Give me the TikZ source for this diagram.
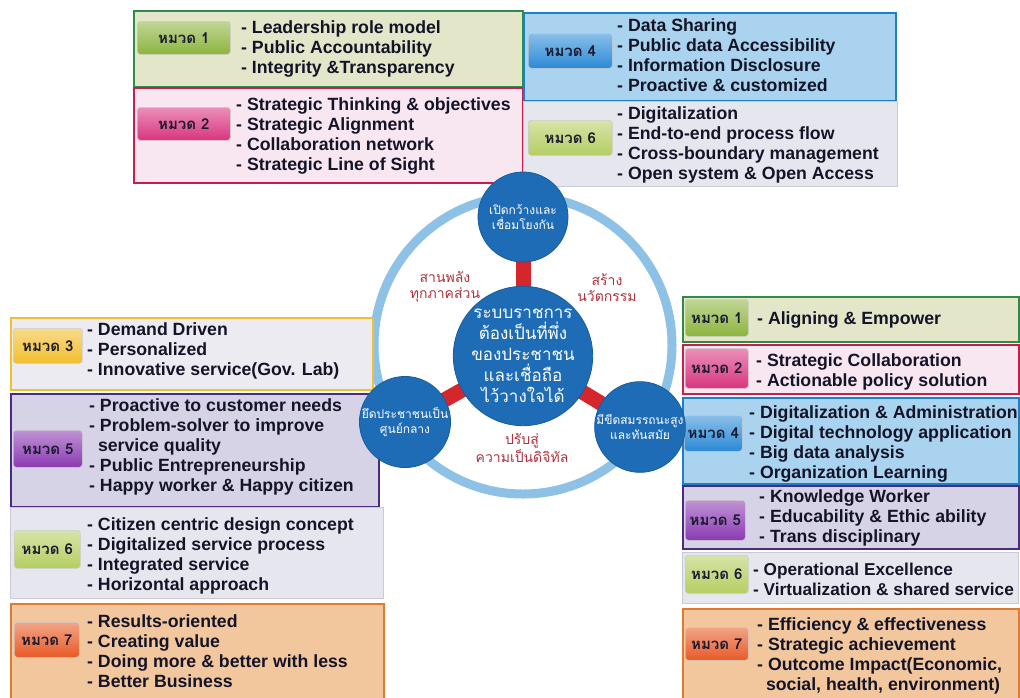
\documentclass[tikz,border=0pt]{standalone}
\usepackage{fontspec}
\setmainfont{Liberation Sans}
\newfontfamily\thaifont[Script=Thai]{Loma}
\usetikzlibrary{positioning}
\definecolor{ink}{HTML}{141428}
\definecolor{tagInk}{HTML}{1A1A30}
\definecolor{hgreen}{HTML}{2E8B4A}\definecolor{hgreenFill}{HTML}{E3E6C8}\definecolor{hgreenTag}{HTML}{8DB43F}
\definecolor{hpink}{HTML}{C81E4E}\definecolor{hpinkFill}{HTML}{F8E6F0}\definecolor{hpinkTag}{HTML}{D9357F}
\definecolor{hblue}{HTML}{1E7FC2}\definecolor{hblueFill}{HTML}{A9D3EE}\definecolor{hblueTag}{HTML}{2B8AD6}
\definecolor{hgrey}{HTML}{C9CAD6}\definecolor{hgreyFill}{HTML}{E6E7EE}\definecolor{hgreyTag}{HTML}{B5CE62}
\definecolor{hyellow}{HTML}{EFC12F}\definecolor{hyellowFill}{HTML}{EBEBF1}\definecolor{hyellowTag}{HTML}{F2BE2C}
\definecolor{hpurple}{HTML}{4B2A82}\definecolor{hpurpleFill}{HTML}{D7D3E7}\definecolor{hpurpleTag}{HTML}{8B3AB2}
\definecolor{horange}{HTML}{E07A2F}\definecolor{horangeFill}{HTML}{F3C79D}\definecolor{horangeTag}{HTML}{E85A26}
\definecolor{ringBlue}{HTML}{8DC1E5}
\definecolor{discBlue}{HTML}{1F6CB6}
\definecolor{spokeRed}{HTML}{D4262B}
\definecolor{arcRed}{HTML}{B0303C}
\pgfdeclarelayer{back}
\pgfsetlayers{back,main}

\begin{document}
\begin{tikzpicture}
  [x=1pt,y=-1pt,
   catBox/.style={draw=#1,fill=#1Fill,line width=1.8pt,anchor=north west,inner sep=0},
   tagBox/.style={rounded corners=3pt,top color=#1Tag!55!white,bottom color=#1Tag,
     draw=gray!40,line width=0.6pt,anchor=north west,inner sep=0,text=tagInk,
     font=\thaifont\bfseries\fontsize{15}{15}\selectfont},
   items/.style={anchor=west,align=left,inner sep=0,text=ink,
     font=\bfseries\fontsize{17.7}{20}\selectfont},
   disc/.style={circle,fill=discBlue,draw=discBlue!85!black,line width=0.8pt,
     inner sep=0,minimum size=#1,text=white,align=center},
   discText/.style={font=\thaifont\fontsize{12}{15}\selectfont},
   coreText/.style={font=\thaifont\fontsize{17}{21}\selectfont},
   arcText/.style={align=center,text=arcRed,inner sep=0,
     font=\thaifont\fontsize{14}{16}\selectfont},
   spoke/.style={line width=15pt,spokeRed,shorten <=-4pt,shorten >=-4pt},
  ]
 \useasboundingbox (0,0) rectangle (1020,697);

 % top left
 \node[catBox=hgreen,minimum width=389,minimum height=76] (boxA1) at (133,10) {};
 \node[tagBox=hgreen,minimum width=93,minimum height=33] (tagA1) at (137,21) {หมวด 1};
 \node[items] (txtA1) at (241,49) {- Leadership role model\\- Public Accountability\\- Integrity \&Transparency};

 \node[catBox=hpink,minimum width=389,minimum height=95] (boxA2) at (133,87) {};
 \node[tagBox=hpink,minimum width=93,minimum height=33] (tagA2) at (137,107) {หมวด 2};
 \node[items] (txtA2) at (236,136) {- Strategic Thinking \& objectives\\- Strategic Alignment\\- Collaboration network\\- Strategic Line of Sight};

 % top right
 \node[catBox=hblue,minimum width=372,minimum height=88] (boxA4) at (523,12) {};
 \node[tagBox=hblue,minimum width=84,minimum height=35] (tagA4) at (528,33) {หมวด 4};
 \node[items] (txtA4) at (617,55) {- Data Sharing\\- Public data Accessibility\\- Information Disclosure\\- Proactive \& customized};

 \node[catBox=hgrey,line width=0.8pt,minimum width=374,minimum height=85] (boxA6) at (523,101) {};
 \node[tagBox=hgrey,minimum width=84,minimum height=35] (tagA6) at (528,120) {หมวด 6};
 \node[items] (txtA6) at (617,145) {- Digitalization\\- End-to-end process flow\\- Cross-boundary management\\- Open system \& Open Access};

 % left column
 \node[catBox=hyellow,minimum width=362,minimum height=72] (boxL3) at (10,317) {};
 \node[tagBox=hyellow,minimum width=69,minimum height=35] (tagL3) at (13,328) {หมวด 3};
 \node[items] (txtL3) at (87,351) {- Demand Driven\\- Personalized\\- Innovative service(Gov. Lab)};

 \node[catBox=hpurple,minimum width=368,minimum height=113] (boxL5) at (10,393) {};
 \node[tagBox=hpurple,minimum width=69,minimum height=37] (tagL5) at (13,430) {หมวด 5};
 \node[items] (txtL5) at (89,447) {- Proactive to customer needs\\- Problem-solver to improve\\\phantom{-}\,service quality\\- Public Entrepreneurship\\- Happy worker \& Happy citizen};

 \node[catBox=hgrey,line width=0.8pt,minimum width=373,minimum height=91] (boxL6) at (10,507) {};
 \node[tagBox=hgrey,minimum width=66,minimum height=38] (tagL6) at (14,530) {หมวด 6};
 \node[items] (txtL6) at (87,556) {- Citizen centric design concept\\- Digitalized service process\\- Integrated service\\- Horizontal approach};

 \node[catBox=horange,minimum width=373,minimum height=100] (boxL7) at (10,603) {};
 \node[tagBox=horange,minimum width=65,minimum height=35] (tagL7) at (14,622) {หมวด 7};
 \node[items] (txtL7) at (87,651) {- Results-oriented\\- Creating value\\- Doing more \& better with less\\- Better Business};

 % right column
 \node[catBox=hgreen,minimum width=336,minimum height=45] (boxR1) at (682,296) {};
 \node[tagBox=hgreen,minimum width=63,minimum height=37] (tagR1) at (685,299) {หมวด 1};
 \node[items] (txtR1) at (757,320) {- Aligning \& Empower};

 \node[catBox=hpink,minimum width=336,minimum height=49] (boxR2) at (682,344) {};
 \node[tagBox=hpink,minimum width=63,minimum height=40] (tagR2) at (685,348) {หมวด 2};
 \node[items] (txtR2) at (756,372) {- Strategic Collaboration\\- Actionable policy solution};

 \node[catBox=hblue,minimum width=336,minimum height=86] (boxR4) at (682,397) {};
 \node[tagBox=hblue,minimum width=58,minimum height=36] (tagR4) at (684,415) {หมวด 4};
 \node[items] (txtR4) at (749,444) {- Digitalization \& Administration\\- Digital technology application\\- Big data analysis\\- Organization Learning};

 \node[catBox=hpurple,minimum width=336,minimum height=63] (boxR5) at (682,485) {};
 \node[tagBox=hpurple,minimum width=60,minimum height=40] (tagR5) at (685,500) {หมวด 5};
 \node[items] (txtR5) at (759,518) {- Knowledge Worker\\- Educability \& Ethic ability\\- Trans disciplinary};

 \node[catBox=hgrey,line width=0.8pt,minimum width=336,minimum height=51] (boxR6) at (682,552) {};
 \node[tagBox=hgrey,minimum width=63,minimum height=38] (tagR6) at (685,555) {หมวด 6};
 \node[items,font=\bfseries\fontsize{17.2}{20}\selectfont] (txtR6) at (753,579) {- Operational Excellence\\- Virtualization \& shared service};

 \node[catBox=horange,minimum width=336,minimum height=95] (boxR7) at (682,608) {};
 \node[tagBox=horange,minimum width=63,minimum height=33] (tagR7) at (685,627) {หมวด 7};
 \node[items] (txtR7) at (757,656) {- Efficiency \& effectiveness\\- Strategic achievement\\- Outcome Impact(Economic,\\\phantom{-}\,social, health, environment)};

 % centre wheel
 \coordinate (hub) at (523,345);
 \node[disc=126,coreText] (core) at (523,356)
   {ระบบราชการ\\ต้องเป็นที่พึ่ง\\ของประชาชน\\และเชื่อถือ\\ไว้วางใจได้};
 \node[disc=90,discText] (open) at (523,217) {เปิดกว้างและ\\เชื่อมโยงกัน};
 \node[disc=90,discText] (citizen) at (405,422) {ยึดประชาชนเป็น\\ศูนย์กลาง};
 \node[disc=90,discText] (smart) at (640,427) {มีขีดสมรรถนะสูง\\และทันสมัย};

 \begin{pgfonlayer}{back}
  \draw[ringBlue,line width=9pt] (hub) circle[radius=149pt];
  \draw[spoke] (core) -- (open);
  \draw[spoke] (core) -- (citizen);
  \draw[spoke] (core) -- (smart);
 \end{pgfonlayer}

 \node[arcText] (unite) at (445,287) {สานพลัง\\ทุกภาคส่วน};
 \node[arcText] (innov) at (607,288) {สร้าง\\นวัตกรรม};
 \node[arcText] (digit) at (522,448) {ปรับสู่\\ความเป็นดิจิทัล};

\end{tikzpicture}
\end{document}
